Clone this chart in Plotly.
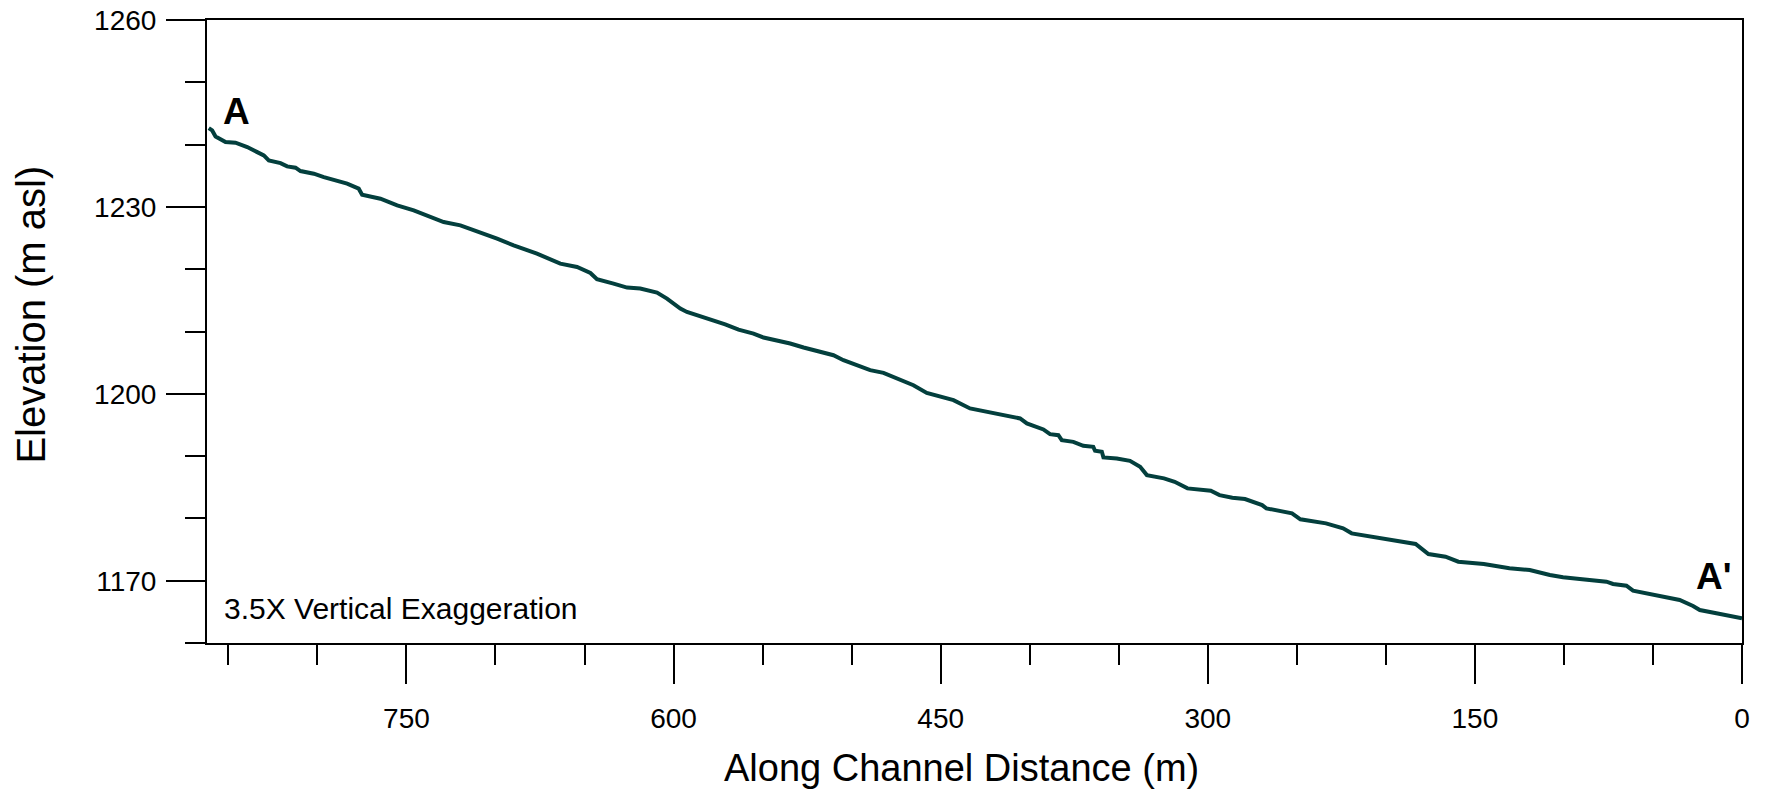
import plotly.graph_objects as go

# Along-channel distance (m) and elevation (m asl)
distance = [861.0, 859.1, 857.2, 854.4, 851.6, 846.0, 839.4, 833.8, 830.1, 827.3,
            820.7, 817.0, 812.3, 809.5, 802.0, 796.4, 783.3, 776.8, 774.9, 764.6,
            755.2, 745.9, 734.7, 729.1, 719.7, 708.5, 699.1, 689.8, 676.7, 663.6,
            654.2, 646.7, 643.0, 633.7, 626.1, 618.7, 609.3, 603.7, 596.2, 592.5,
            583.2, 575.6, 571.0, 563.5, 555.1, 549.5, 540.1, 534.5, 527.0, 517.6,
            510.2, 504.6, 497.1, 489.6, 482.1, 474.6, 465.3, 457.8, 448.4, 442.8,
            433.5, 424.1, 414.8, 405.4, 401.6, 392.3, 388.6, 383.9, 382.0, 375.5,
            369.9, 364.3, 363.3, 359.5, 358.6, 351.1, 343.7, 338.0, 334.2, 324.6,
            318.6, 311.4, 298.3, 293.4, 286.2, 279.1, 269.5, 267.1, 252.7, 248.0,
            233.6, 224.0, 219.2, 202.4, 183.3, 176.1, 166.5, 159.3, 145.0, 130.6,
            119.2, 107.9, 100.5, 91.1, 76.1, 72.4, 64.9, 61.2, 51.8, 42.4,
            35.0, 27.5, 23.7, 14.4, 0.0]
elevation = [1242.64, 1242.27, 1241.31, 1240.94, 1240.40, 1240.30, 1239.60, 1238.79, 1238.26, 1237.46,
             1237.03, 1236.50, 1236.29, 1235.75, 1235.33, 1234.79, 1233.73, 1232.93, 1231.96, 1231.32,
             1230.25, 1229.44, 1228.11, 1227.57, 1227.04, 1225.97, 1224.91, 1223.83, 1222.50, 1220.90,
             1220.35, 1219.39, 1218.38, 1217.69, 1217.05, 1216.89, 1216.25, 1215.29, 1213.68, 1213.14,
             1212.33, 1211.69, 1211.16, 1210.31, 1209.67, 1209.03, 1208.49, 1208.07, 1207.43, 1206.72,
             1206.19, 1205.39, 1204.59, 1203.79, 1203.36, 1202.46, 1201.38, 1200.15, 1199.51, 1198.98,
             1197.65, 1197.10, 1196.57, 1196.04, 1195.24, 1194.28, 1193.52, 1193.36, 1192.56, 1192.29,
             1191.65, 1191.49, 1190.85, 1190.69, 1189.79, 1189.63, 1189.24, 1188.28, 1186.95, 1186.42,
             1185.88, 1184.82, 1184.43, 1183.74, 1183.31, 1183.10, 1182.14, 1181.61, 1180.81, 1179.85,
             1179.20, 1178.40, 1177.60, 1176.80, 1175.89, 1174.28, 1173.85, 1173.05, 1172.68, 1171.99,
             1171.72, 1170.91, 1170.55, 1170.27, 1169.84, 1169.47, 1169.20, 1168.40, 1167.87, 1167.18,
             1166.91, 1165.94, 1165.30, 1164.77, 1163.97]

x_ticks = [0, 150, 300, 450, 600, 750]
y_ticks = [1170, 1200, 1230, 1260]

FONT = "Liberation Sans, Arial, sans-serif"

fig = go.Figure()
fig.add_trace(go.Scatter(
    x=distance, y=elevation, mode="lines",
    line=dict(color="#033f3d", width=4),
    showlegend=False, hoverinfo="skip"))

axis_common = dict(
    showgrid=False, zeroline=False, showline=True, mirror=True,
    linecolor="black", linewidth=2, automargin=False,
    ticks="outside", ticklen=39, tickwidth=2, tickcolor="black",
    tickfont=dict(family=FONT, size=28, color="black"),
)

fig.update_xaxes(
    range=[862, 0], tickmode="array", tickvals=x_ticks,
    ticktext=[str(v) for v in x_ticks], ticklabelstandoff=10,
    minor=dict(dtick=50, tick0=0, ticks="outside", ticklen=20, tickwidth=2,
               tickcolor="black", showgrid=False),
    **axis_common)
fig.update_yaxes(
    range=[1160, 1260], tickmode="array", tickvals=y_ticks,
    ticktext=[str(v) for v in y_ticks], ticklabelstandoff=4,
    minor=dict(dtick=10, tick0=1160, ticks="outside", ticklen=20, tickwidth=2,
               tickcolor="black", showgrid=False),
    **axis_common)

annotations = [
    dict(text="Along Channel Distance (m)", x=0.4915, y=-0.200, xanchor="center",
         yanchor="middle", font=dict(family=FONT, size=38, color="black")),
    dict(text="Elevation (m asl)", x=-0.1147, y=0.527, xanchor="center",
         yanchor="middle", textangle=-90, font=dict(family=FONT, size=40, color="black")),
    dict(text="3.5X Vertical Exaggeration", x=0.0100, y=0.055, xanchor="left",
         yanchor="middle", font=dict(family=FONT, size=30, color="black")),
    dict(text="<b>A</b>", x=0.0191, y=0.8525, xanchor="center", yanchor="middle",
         font=dict(family=FONT, size=37, color="black")),
    dict(text="<b>A'</b>", x=0.9816, y=0.1071, xanchor="center", yanchor="middle",
         font=dict(family=FONT, size=37, color="black")),
]
for a in annotations:
    a.update(xref="paper", yref="paper", showarrow=False)

fig.update_layout(
    width=1769, height=796,
    margin=dict(l=207, r=27, t=20, b=153),
    paper_bgcolor="white", plot_bgcolor="white",
    annotations=annotations,
    font=dict(family=FONT, color="black"),
)

fig.write_html("out.html")
